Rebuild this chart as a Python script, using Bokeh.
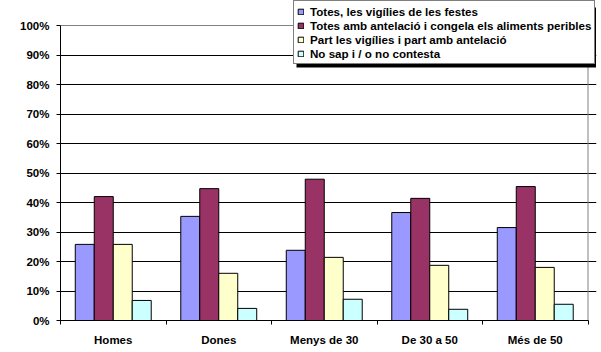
import numpy as np
from bokeh.plotting import figure
from bokeh.models import (FixedTicker, PrintfTickFormatter, Legend, LegendItem,
                          BoxAnnotation, Range1d)
from bokeh.embed import file_html
from bokeh.resources import INLINE

categories = ["Homes", "Dones", "Menys de 30", "De 30 a 50", "Més de 50"]
series_names = ["Totes, les vigílies de les festes",
                "Totes amb antelació i congela els aliments peribles",
                "Part les vigílies i part amb antelació",
                "No sap i / o no contesta"]
totes_vigilies = [25.8, 35.3, 23.8, 36.6, 31.5]
totes_antelacio = [42.0, 44.7, 47.9, 41.4, 45.4]
part_part = [25.8, 16.0, 21.4, 18.7, 18.0]
no_sap = [6.8, 4.1, 7.2, 3.8, 5.5]
colors = ["#9999FF", "#993366", "#FFFFCC", "#CCFFFF"]
y_ticks = list(range(0, 101, 10))

# layout (pixels)
W, H = 601, 352
LEFT, RIGHT_B, BOTTOM = 60, 5, 32
PLOT_RIGHT_PX, PLOT_TOP_PX = 587.5, 25
frame_w = W - LEFT - RIGHT_B
frame_h = H - BOTTOM
n = len(categories)
ymax = y_ticks[-1]
px_per_x = (PLOT_RIGHT_PX - LEFT) / n
px_per_y = (frame_h - PLOT_TOP_PX) / ymax
x_end = frame_w / px_per_x
y_end = frame_h / px_per_y


def sx(px):
    return (px - LEFT) / px_per_x


def sy(py):
    return (frame_h - py) / px_per_y


p = figure(width=W, height=H, output_backend="svg", toolbar_location=None,
           x_range=Range1d(0, x_end), y_range=Range1d(0, y_end),
           min_border_left=LEFT, min_border_right=RIGHT_B, min_border_top=0,
           min_border_bottom=BOTTOM)
p.background_fill_color = "white"
p.border_fill_color = "white"
p.outline_line_color = None

bw = 0.18
offsets = [-1.5 * bw, -0.5 * bw, 0.5 * bw, 1.5 * bw]
series = [totes_vigilies, totes_antelacio, part_part, no_sap]
centers = np.arange(n) + 0.5
renderers = []
for vals, off, col in zip(series, offsets, colors):
    r = p.vbar(x=centers + off, top=vals, bottom=0, width=bw,
               fill_color=col, line_color="black", line_width=1)
    renderers.append(r)

# plot-area border (top and right, grey)
p.segment(x0=[0.0, float(n)], y0=[float(ymax), 0.0], x1=[float(n), float(n)],
          y1=[float(ymax), float(ymax)], line_color="#808080", line_width=1)

# axes
xa = p.xaxis[0]
xa.bounds = (0, n)
xa.ticker = FixedTicker(ticks=list(centers), minor_ticks=list(range(n + 1)))
xa.major_label_overrides = {float(c): cat for c, cat in zip(centers, categories)}
xa.major_tick_line_color = None
xa.major_tick_out = 0
xa.major_tick_in = 0
xa.minor_tick_out = 4
xa.minor_tick_in = 0
xa.minor_tick_line_color = "black"
xa.axis_line_color = "black"
xa.major_label_text_color = "black"
xa.major_label_text_font = "Liberation Sans"
xa.major_label_text_font_style = "bold"
xa.major_label_text_font_size = "11.5px"
xa.major_label_standoff = 9

ya = p.yaxis[0]
ya.bounds = (0, ymax)
ya.ticker = FixedTicker(ticks=y_ticks)
ya.formatter = PrintfTickFormatter(format="%d%%")
ya.major_tick_out = 4
ya.major_tick_in = 0
ya.minor_tick_line_color = None
ya.axis_line_color = "black"
ya.major_tick_line_color = "black"
ya.major_label_text_color = "black"
ya.major_label_text_font = "Liberation Sans"
ya.major_label_text_font_style = "bold"
ya.major_label_text_font_size = "11.5px"
ya.major_label_standoff = 7

p.xgrid.grid_line_color = None
p.ygrid.ticker = FixedTicker(ticks=y_ticks[:-1])
p.ygrid.bounds = (0, n)
p.ygrid.grid_line_color = "black"
p.ygrid.grid_line_alpha = 1.0

# legend shadow
shadow = BoxAnnotation(left=sx(296), right=sx(595.5), top=sy(7), bottom=sy(67),
                       fill_color="black", fill_alpha=1.0, line_color=None)
p.add_layout(shadow)

items = [LegendItem(label=s, renderers=[r]) for s, r in zip(series_names, renderers)]
legend = Legend(items=items, location=(233, frame_h - 64))
legend.border_line_color = "black"
legend.border_line_width = 1
legend.background_fill_color = "white"
legend.background_fill_alpha = 1.0
legend.label_text_color = "black"
legend.label_text_font = "Liberation Sans"
legend.label_text_font_style = "bold"
legend.label_text_font_size = "11.6px"
legend.glyph_width = 7
legend.glyph_height = 7
legend.label_height = 14
legend.label_standoff = 6
legend.spacing = 0
legend.padding = 3
legend.margin = 0
p.add_layout(legend, "center")

open("out.html", "w").write(file_html(p, INLINE))
